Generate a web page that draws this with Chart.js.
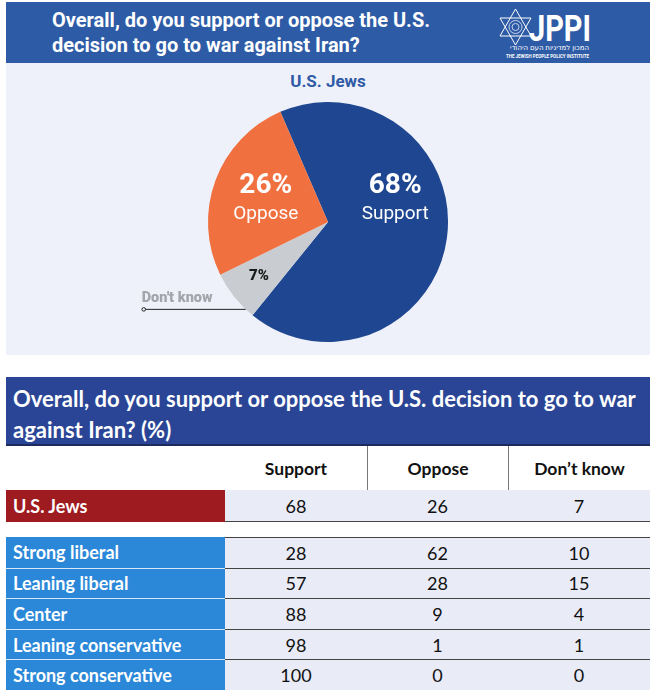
<!DOCTYPE html>
<html>
<head>
<meta charset="utf-8">
<script src="https://cdn.jsdelivr.net/npm/chart.js@4.4.1/dist/chart.umd.min.js"></script>
<style>
  body { margin: 0; background: #fff; width: 658px; height: 695px; position: relative; overflow: hidden; font-family: Roboto, sans-serif; }
  .abs { position: absolute; }
  #hdr { left: 6px; top: 2px; width: 644px; height: 61px; background: #2d5ba6; }
  #hdr h1 { position: absolute; left: 46px; top: 6px; margin: 0; font: 700 20px/25px Roboto, sans-serif; color: #fff; }
  #panel { left: 6px; top: 63px; width: 644px; height: 292px; background: #eef1f9; }
  #sub { left: 6px; top: 71px; width: 644px; text-align: center; font: 700 17px/20px Roboto, sans-serif; color: #2e5aa6; }
  #pie { left: 6px; top: 97px; }
  #ttl { left: 6px; top: 377px; width: 644px; height: 67px; background: #2a4595; border-bottom: 2px solid #1d2b5c; }
  #ttl div { position: absolute; left: 7px; top: 6px; font: 700 22px/31px Lato, sans-serif; color: #fff; }
  .cell { position: absolute; box-sizing: border-box; display: flex; align-items: center; font: 400 18px Lato, sans-serif; color: #111; }
  .num { justify-content: center; background: #e9ebf7; }
  .lab { padding-left: 7px; font-weight: 700; color: #fff; }
  .head { justify-content: center; font-weight: 700; font-size: 17.5px; background: #fff; }
</style>
</head>
<body>
<div id="hdr" class="abs">
  <h1>Overall, do you support or oppose the U.S.<br>decision to go to war against Iran?</h1>
  <svg class="abs" style="left:488px;top:6px" width="100" height="55" viewBox="488 8 100 55">
    <g fill="none" stroke="#fff" stroke-width="1">
      <polygon points="509.5,9 525,36 494,36"/>
      <polygon points="509.5,45 525,18 494,18"/>
      <circle cx="509.5" cy="27" r="6.5" stroke="#c9d3ea"/>
      <circle cx="509.5" cy="27" r="3.5" stroke="#c9d3ea"/>
    </g>
    <text x="523" y="41" font-family="Roboto" font-weight="700" font-size="37" fill="#fff" textLength="62" lengthAdjust="spacingAndGlyphs">JPPI</text>
    <text x="583" y="50" text-anchor="end" font-family="'Noto Sans', 'DejaVu Sans', sans-serif" font-size="7" fill="#fff">המכון למדיניות העם היהודי</text>
    <text x="500" y="57.5" font-family="Roboto" font-weight="700" font-size="5" fill="#fff" textLength="83" lengthAdjust="spacingAndGlyphs">THE JEWISH PEOPLE POLICY INSTITUTE</text>
  </svg>
</div>
<div id="panel" class="abs"></div>
<div id="sub" class="abs">U.S. Jews</div>
<canvas id="pie" class="abs" width="644" height="250"></canvas>
<div id="ttl" class="abs"><div>Overall, do you support or oppose the U.S. decision to go to war<br>against Iran? (%)</div></div>
<div id="table"></div>

<script>
// table columns and rows
const columns = ['Support', 'Oppose', 'Don\u2019t know'];
const totalLabel = 'U.S. Jews';
const totalValues = [68, 26, 7];
const groupLabels = ['Strong liberal', 'Leaning liberal', 'Center', 'Leaning conservative', 'Strong conservative'];
const supportValues = [28, 57, 88, 98, 100];
const opposeValues = [62, 28, 9, 1, 0];
const dontKnowValues = [10, 15, 4, 1, 0];

// pie slices go clockwise: Support, Don't know, Oppose
const pieOrder = [0, 2, 1];
const pieNames = ['Support', 'Oppose', 'Don\'t know'];
const pieColors = ['#1f4690', '#f0703f', '#c9cdd1'];

// where each slice's label sits (angle shift from the slice middle, fraction of radius)
const labelStyle = [
  { shift: -21, r: 0.575, pct: '700 28px Roboto', name: '400 19px Roboto', color: '#fff' },
  { shift: -6, r: 0.535, pct: '700 28px Roboto', name: '400 19px Roboto', color: '#fff' },
  { shift: 1, r: 0.725, pct: '900 15px Roboto', name: null, color: '#1a1a1a' }
];

const sliceLabels = {
  id: 'sliceLabels',
  afterDatasetsDraw(chart) {
    const ctx = chart.ctx;
    const meta = chart.getDatasetMeta(0);
    ctx.save();
    ctx.textAlign = 'center';
    ctx.textBaseline = 'alphabetic';
    meta.data.forEach((arc, i) => {
      const k = pieOrder[i];
      const s = labelStyle[k];
      const a = (arc.startAngle + arc.endAngle) / 2 + s.shift * Math.PI / 180;
      const x = arc.x + Math.cos(a) * arc.outerRadius * s.r;
      const y = arc.y + Math.sin(a) * arc.outerRadius * s.r;
      ctx.fillStyle = s.color;
      ctx.font = s.pct;
      const pct = chart.data.datasets[0].data[i] + '%';
      if (s.name) {
        ctx.fillText(pct, x, y - 13);
        ctx.font = s.name;
        ctx.fillText(pieNames[k], x, y + 13);
      } else {
        ctx.fillText(pct, x, y + 5);
        // callout for the small slice
        const e = arc.startAngle + 4.3 * Math.PI / 180;
        const ex = arc.x + Math.cos(e) * arc.outerRadius;
        const ey = arc.y + Math.sin(e) * arc.outerRadius;
        const lx = ex - 102;
        ctx.strokeStyle = '#222';
        ctx.lineWidth = 1;
        ctx.beginPath();
        ctx.moveTo(ex, ey);
        ctx.lineTo(lx, ey);
        ctx.stroke();
        ctx.beginPath();
        ctx.arc(lx, ey, 1.8, 0, Math.PI * 2);
        ctx.fillStyle = '#eef1f9';
        ctx.fill();
        ctx.stroke();
        ctx.textAlign = 'left';
        ctx.font = '900 14.5px Roboto';
        ctx.fillStyle = '#a2a6ab';
        ctx.fillText(pieNames[k], lx - 2, ey - 7.5);
        ctx.textAlign = 'center';
      }
    });
    ctx.restore();
  }
};

new Chart(document.getElementById('pie'), {
  type: 'pie',
  data: {
    labels: pieOrder.map(k => pieNames[k]),
    datasets: [{
      data: pieOrder.map(k => totalValues[k]),
      backgroundColor: pieOrder.map(k => pieColors[k]),
      borderWidth: 0
    }]
  },
  options: {
    responsive: false,
    animation: false,
    rotation: -23.4,
    layout: { padding: 5 },
    plugins: { legend: { display: false }, tooltip: { enabled: false } }
  },
  plugins: [sliceLabels]
});

// table built from the arrays
const table = document.getElementById('table');
const colX = [6, 225, 367, 508, 650];
function cell(cls, x, y, w, h, text, extra) {
  const d = document.createElement('div');
  d.className = 'cell ' + cls;
  d.style.left = x + 'px'; d.style.top = y + 'px';
  d.style.width = w + 'px'; d.style.height = h + 'px';
  if (extra) Object.assign(d.style, extra);
  d.textContent = text;
  table.appendChild(d);
}
columns.forEach((c, j) => {
  cell('head', colX[j + 1], 446, colX[j + 2] - colX[j + 1], 44, c,
    j > 0 ? { borderLeft: '1px solid #777' } : null);
});
cell('lab', 6, 490, 219, 32, totalLabel, { background: '#9e1b1f' });
totalValues.forEach((v, j) => {
  cell('num', colX[j + 1], 490, colX[j + 2] - colX[j + 1], 32, String(v), { borderBottom: '1.5px solid #444' });
});
const rowTop = 537, rowH = 30.6;
groupLabels.forEach((g, i) => {
  const y = rowTop + i * rowH;
  cell('lab', 6, y, 219, rowH, g, { background: '#2b87d8', borderTop: i ? '1px solid #d6e6f6' : 'none' });
  [supportValues[i], opposeValues[i], dontKnowValues[i]].forEach((v, j) => {
    cell('num', colX[j + 1], y, colX[j + 2] - colX[j + 1], rowH, String(v), { borderTop: '1.5px solid #444' });
  });
});
</script>
</body>
</html>
